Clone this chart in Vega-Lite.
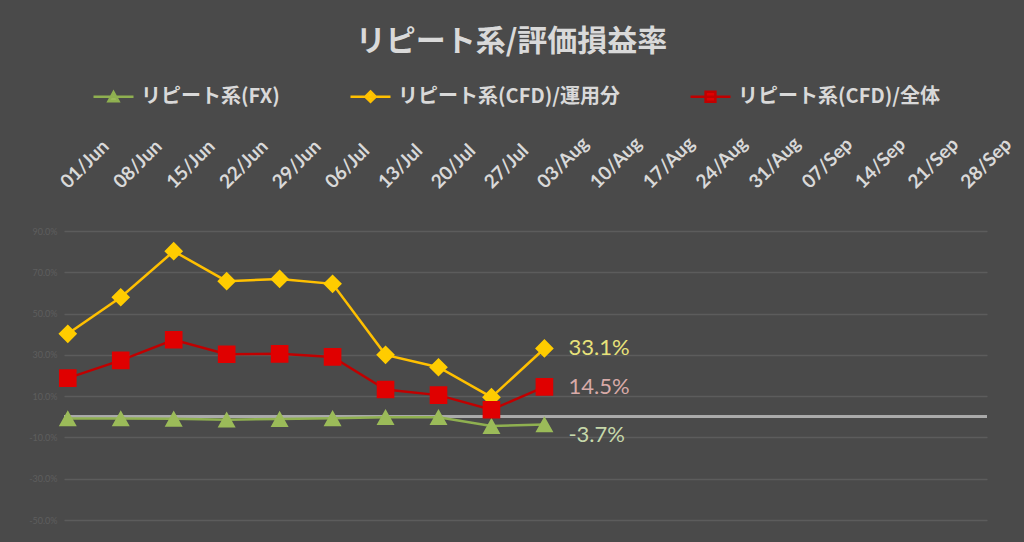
{
  "$schema": "https://vega.github.io/schema/vega-lite/v6.json",
  "width": 923,
  "height": 289,
  "autosize": {"type": "none"},
  "padding": {"left": 64, "top": 231, "right": 37, "bottom": 22},
  "background": "#4a4a4a",
  "view": {"stroke": null},
  "title": {
    "text": "リピート系/評価損益率",
    "font": "Noto Sans CJK JP",
    "fontSize": 30,
    "fontWeight": "bold",
    "color": "#d9d9d9",
    "anchor": "middle",
    "frame": "group",
    "dx": -14,
    "offset": 18
  },
  "config": {
    "locale": {
      "number": {"decimal": ".", "thousands": ",", "grouping": [3], "currency": ["$", ""], "minus": "-"}
    },
    "legend": {
      "orient": "none",
      "legendX": 28,
      "legendY": -156,
      "direction": "horizontal",
      "title": null,
      "padding": 0,
      "symbolSize": 1600,
      "symbolStrokeWidth": 2.5,
      "labelFont": "Noto Sans CJK JP",
      "labelFontSize": 20,
      "labelFontWeight": "bold",
      "labelColor": "#d9d9d9",
      "labelOffset": 6,
      "labelLimit": 400,
      "columnPadding": 65
    }
  },
  "data": {
    "values": [
      {"date": "2020-06-01", "series": "リピート系(FX)", "value": -0.008},
      {"date": "2020-06-08", "series": "リピート系(FX)", "value": -0.008},
      {"date": "2020-06-15", "series": "リピート系(FX)", "value": -0.010},
      {"date": "2020-06-22", "series": "リピート系(FX)", "value": -0.014},
      {"date": "2020-06-29", "series": "リピート系(FX)", "value": -0.011},
      {"date": "2020-07-06", "series": "リピート系(FX)", "value": -0.007},
      {"date": "2020-07-13", "series": "リピート系(FX)", "value": -0.002},
      {"date": "2020-07-20", "series": "リピート系(FX)", "value": -0.002},
      {"date": "2020-07-27", "series": "リピート系(FX)", "value": -0.045},
      {"date": "2020-08-03", "series": "リピート系(FX)", "value": -0.037},
      {"date": "2020-06-01", "series": "リピート系(CFD)/運用分", "value": 0.402},
      {"date": "2020-06-08", "series": "リピート系(CFD)/運用分", "value": 0.579},
      {"date": "2020-06-15", "series": "リピート系(CFD)/運用分", "value": 0.802},
      {"date": "2020-06-22", "series": "リピート系(CFD)/運用分", "value": 0.657},
      {"date": "2020-06-29", "series": "リピート系(CFD)/運用分", "value": 0.668},
      {"date": "2020-07-06", "series": "リピート系(CFD)/運用分", "value": 0.644},
      {"date": "2020-07-13", "series": "リピート系(CFD)/運用分", "value": 0.300},
      {"date": "2020-07-20", "series": "リピート系(CFD)/運用分", "value": 0.240},
      {"date": "2020-07-27", "series": "リピート系(CFD)/運用分", "value": 0.095},
      {"date": "2020-08-03", "series": "リピート系(CFD)/運用分", "value": 0.331},
      {"date": "2020-06-01", "series": "リピート系(CFD)/全体", "value": 0.187},
      {"date": "2020-06-08", "series": "リピート系(CFD)/全体", "value": 0.273},
      {"date": "2020-06-15", "series": "リピート系(CFD)/全体", "value": 0.373},
      {"date": "2020-06-22", "series": "リピート系(CFD)/全体", "value": 0.303},
      {"date": "2020-06-29", "series": "リピート系(CFD)/全体", "value": 0.305},
      {"date": "2020-07-06", "series": "リピート系(CFD)/全体", "value": 0.290},
      {"date": "2020-07-13", "series": "リピート系(CFD)/全体", "value": 0.132},
      {"date": "2020-07-20", "series": "リピート系(CFD)/全体", "value": 0.105},
      {"date": "2020-07-27", "series": "リピート系(CFD)/全体", "value": 0.034},
      {"date": "2020-08-03", "series": "リピート系(CFD)/全体", "value": 0.145}
    ]
  },
  "encoding": {
    "x": {
      "field": "date",
      "type": "temporal",
      "scale": {
        "type": "utc",
        "domain": [
          {"year": 2020, "month": 5, "date": 31, "hours": 12, "utc": true},
          {"year": 2020, "month": 9, "date": 30, "hours": 12, "utc": true}
        ]
      },
      "axis": {
        "orient": "top",
        "title": null,
        "domain": false,
        "ticks": false,
        "tickSize": 0,
        "grid": false,
        "labelAngle": -45,
        "labelAlign": "left",
        "labelBaseline": "alphabetic",
        "labelPadding": 42,
        "labelFont": "Lato",
        "labelFontSize": 19,
        "labelFontWeight": "bold",
        "labelColor": "#d9d9d9",
        "labelOverlap": false,
        "labelBound": false,
        "labelFlush": false,
        "values": [
          {"year": 2020, "month": 6, "date": 1, "utc": true},
          {"year": 2020, "month": 6, "date": 8, "utc": true},
          {"year": 2020, "month": 6, "date": 15, "utc": true},
          {"year": 2020, "month": 6, "date": 22, "utc": true},
          {"year": 2020, "month": 6, "date": 29, "utc": true},
          {"year": 2020, "month": 7, "date": 6, "utc": true},
          {"year": 2020, "month": 7, "date": 13, "utc": true},
          {"year": 2020, "month": 7, "date": 20, "utc": true},
          {"year": 2020, "month": 7, "date": 27, "utc": true},
          {"year": 2020, "month": 8, "date": 3, "utc": true},
          {"year": 2020, "month": 8, "date": 10, "utc": true},
          {"year": 2020, "month": 8, "date": 17, "utc": true},
          {"year": 2020, "month": 8, "date": 24, "utc": true},
          {"year": 2020, "month": 8, "date": 31, "utc": true},
          {"year": 2020, "month": 9, "date": 7, "utc": true},
          {"year": 2020, "month": 9, "date": 14, "utc": true},
          {"year": 2020, "month": 9, "date": 21, "utc": true},
          {"year": 2020, "month": 9, "date": 28, "utc": true}
        ],
        "labelExpr": "utcFormat(datum.value, '%d/%b')"
      }
    },
    "y": {
      "field": "value",
      "type": "quantitative",
      "scale": {"domain": [-0.5, 0.9], "nice": false, "zero": false},
      "axis": {
        "title": null,
        "domain": false,
        "ticks": false,
        "values": [-0.5, -0.3, -0.1, 0.1, 0.3, 0.5, 0.7, 0.9],
        "format": ".1%",
        "labelFont": "Lato",
        "labelFontSize": 9,
        "labelColor": "#5e5e5e",
        "labelPadding": 7,
        "grid": true,
        "gridColor": "#5c5c5c",
        "gridWidth": 1.5
      }
    }
  },
  "layer": [
    {
      "mark": {"type": "rule", "color": "#ababab", "strokeWidth": 2},
      "encoding": {"y": {"datum": 0}, "x": {"value": 0}, "x2": {"value": 923}}
    },
    {
      "mark": {"type": "line", "strokeWidth": 2.5},
      "encoding": {
        "color": {
          "field": "series",
          "type": "nominal",
          "scale": {
            "domain": ["リピート系(CFD)/全体", "リピート系(CFD)/運用分", "リピート系(FX)"],
            "range": ["#c00000", "#ffc000", "#8fb050"]
          },
          "legend": null
        }
      }
    },
    {
      "mark": {"type": "point", "filled": true, "size": 5184, "opacity": 1, "strokeWidth": 0},
      "encoding": {
        "fill": {
          "field": "series",
          "type": "nominal",
          "scale": {
            "domain": ["リピート系(FX)", "リピート系(CFD)/運用分", "リピート系(CFD)/全体"],
            "range": ["#9bbb59", "#ffcc00", "#e00000"]
          }
        },
        "shape": {
          "field": "series",
          "type": "nominal",
          "scale": {
            "domain": ["リピート系(FX)", "リピート系(CFD)/運用分", "リピート系(CFD)/全体"],
            "range": [
              "M-1,0H1M0,-0.23L0.25,0.22L-0.25,0.22Z",
              "M-1,0H1M0,-0.26L0.26,0L0,0.26L-0.26,0Z",
              "M-1,0H1M-0.245,-0.245H0.245V0.245H-0.245Z"
            ]
          }
        },
        "stroke": {
          "field": "series",
          "type": "nominal",
          "scale": {
            "domain": ["リピート系(FX)", "リピート系(CFD)/運用分", "リピート系(CFD)/全体"],
            "range": ["#8fb050", "#ffc000", "#c00000"]
          }
        }
      }
    },
    {
      "transform": [{"filter": "time(datum.date) == utc(2020, 7, 3) && datum.series == 'リピート系(CFD)/運用分'"}],
      "mark": {"type": "text", "align": "left", "baseline": "middle", "dx": 24, "font": "Lato", "fontSize": 22, "color": "#e8e27a"},
      "encoding": {"text": {"field": "value", "format": ".1%"}}
    },
    {
      "transform": [{"filter": "time(datum.date) == utc(2020, 7, 3) && datum.series == 'リピート系(CFD)/全体'"}],
      "mark": {"type": "text", "align": "left", "baseline": "middle", "dx": 24, "font": "Lato", "fontSize": 22, "color": "#d8aaa8"},
      "encoding": {"text": {"field": "value", "format": ".1%"}}
    },
    {
      "transform": [{"filter": "time(datum.date) == utc(2020, 7, 3) && datum.series == 'リピート系(FX)'"}],
      "mark": {"type": "text", "align": "left", "baseline": "middle", "dx": 24, "dy": 11, "font": "Lato", "fontSize": 22, "color": "#c6d8aa"},
      "encoding": {"text": {"field": "value", "format": ".1%"}}
    }
  ]
}
